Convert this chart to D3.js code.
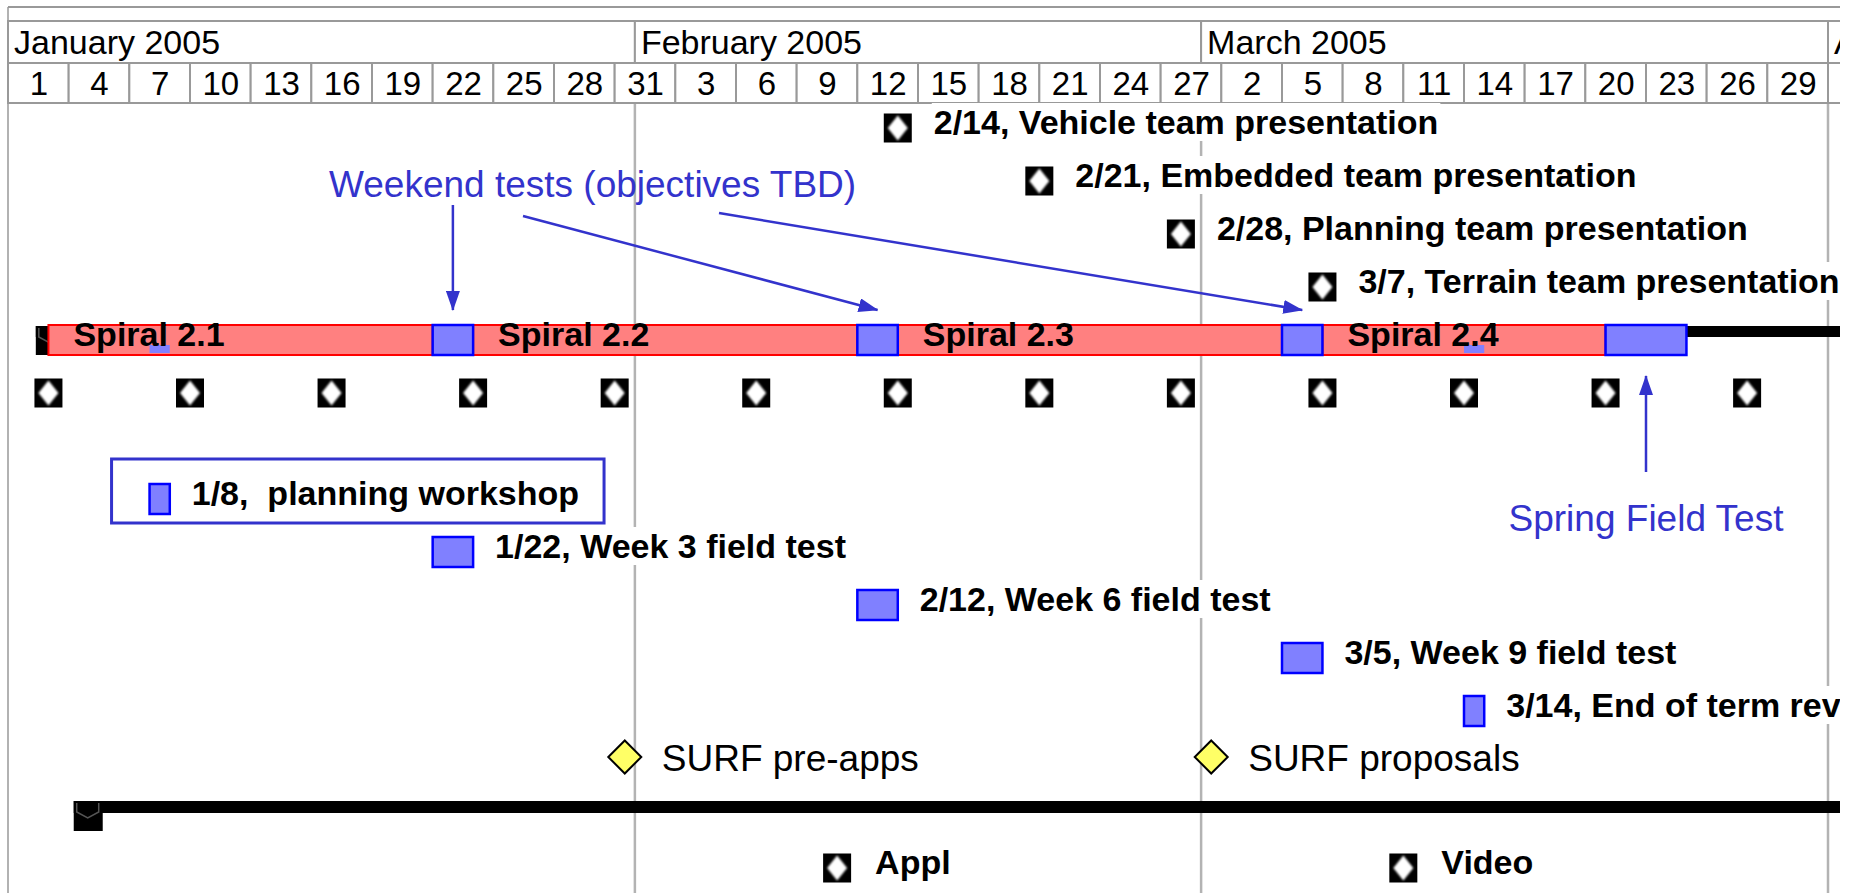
<!DOCTYPE html>
<html><head><meta charset="utf-8">
<script src="https://cdn.jsdelivr.net/npm/d3@7"></script>
<style>
html,body{margin:0;padding:0;background:#fff;overflow:hidden;}
svg{display:block;font-family:"Liberation Sans",Arial,Helvetica,sans-serif;}
</style></head><body>
<svg id="chart" width="1858" height="893"></svg>
<script>
// ---------------- data ----------------
const months = ["January 2005", "February 2005", "March 2005", "April 2005"];
const monthStarts = ["2005-01-01", "2005-02-01", "2005-03-01", "2005-04-01"];
const dayLabels = [1,4,7,10,13,16,19,22,25,28,31,3,6,9,12,15,18,21,24,27,2,5,8,11,14,17,20,23,26,29,1];

const presentationDates = ["2005-02-14", "2005-02-21", "2005-02-28", "2005-03-07"];
const presentationLabels = ["2/14, Vehicle team presentation", "2/21, Embedded team presentation",
  "2/28, Planning team presentation", "3/7, Terrain team presentation"];
const presentationRows = [0, 1, 2, 3];

const spiralNames = ["Spiral 2.1", "Spiral 2.2", "Spiral 2.3", "Spiral 2.4"];
const spiralStarts = ["2005-01-03", "2005-01-24", "2005-02-14", "2005-03-07"];
const spiralEnds = ["2005-01-22", "2005-02-12", "2005-03-05", "2005-03-21"];
const summaryStarts = ["2005-01-02T09:00", "2005-01-04T06:00"];

const testStarts = ["2005-01-22", "2005-02-12", "2005-03-05", "2005-03-21"];
const testEnds = ["2005-01-24", "2005-02-14", "2005-03-07", "2005-03-25"];

const weeklyDates = ["2005-01-03", "2005-01-10", "2005-01-17", "2005-01-24", "2005-01-31", "2005-02-07",
  "2005-02-14", "2005-02-21", "2005-02-28", "2005-03-07", "2005-03-14", "2005-03-21", "2005-03-28"];

const taskLabels = ["1/8,  planning workshop", "1/22, Week 3 field test", "2/12, Week 6 field test",
  "3/5, Week 9 field test", "3/14, End of term review"];
const taskStarts = ["2005-01-08", "2005-01-22", "2005-02-12", "2005-03-05", "2005-03-14"];
const taskEnds = ["2005-01-09", "2005-01-24", "2005-02-14", "2005-03-07", "2005-03-15"];
const taskRows = [7, 8, 9, 10, 11];

const surfLabels = ["SURF pre-apps", "SURF proposals"];
const surfDates = ["2005-01-31T12:00", "2005-03-01T12:00"];

const deliverableLabels = ["Appl", "Video"];
const deliverableDates = ["2005-02-11", "2005-03-11"];

const annotationWeekend = "Weekend tests (objectives TBD)";
const annotationSpring = "Spring Field Test";

// ---------------- setup ----------------
const W = 1858, H = 893, CLIP_R = 1840;
const FONT = '"Liberation Sans", Arial, Helvetica, sans-serif';
const BLUE_ANN = "#3333cc";
const pDay = d3.utcParse("%Y-%m-%d"), pHour = d3.utcParse("%Y-%m-%dT%H:%M");
const parse = s => s.length > 10 ? pHour(s) : pDay(s);

const x = d3.scaleUtc().domain([parse("2005-01-01"), parse("2005-04-01")]).range([8, 1828]);
const y = d3.scaleLinear().domain([0, 11, 12, 13, 14]).range([128, 711, 757, 815, 868]);

const svg = d3.select("#chart");
const defs = svg.append("defs");
defs.append("clipPath").attr("id", "clip").append("rect")
  .attr("x", 0).attr("y", 0).attr("width", CLIP_R).attr("height", H);
const flt = defs.append("filter").attr("id", "soft").attr("x", "-50%").attr("y", "-50%").attr("width", "200%").attr("height", "200%");
flt.append("feGaussianBlur").attr("stdDeviation", 1.3);
const mk = defs.append("marker").attr("id", "arrow").attr("viewBox", "0 0 20 14")
  .attr("refX", 19).attr("refY", 7).attr("markerUnits", "userSpaceOnUse")
  .attr("markerWidth", 20).attr("markerHeight", 14).attr("orient", "auto");
mk.append("path").attr("d", "M0,0 L20,7 L0,14 Z").attr("fill", BLUE_ANN);

const root = svg.append("g").attr("clip-path", "url(#clip)");
const gGrid = root.append("g");
const gHead = root.append("g");
const gBg = root.append("g");
const gMarks = root.append("g");
const gText = root.append("g");

// ---------------- header ----------------
gGrid.append("line").attr("x1", 8).attr("x2", CLIP_R).attr("y1", 7).attr("y2", 7)
  .attr("stroke", "#999").attr("stroke-width", 2);
gGrid.append("line").attr("x1", 8).attr("x2", 8).attr("y1", 7).attr("y2", H)
  .attr("stroke", "#999").attr("stroke-width", 1.5);

const monthDates = monthStarts.map(parse);
const monthEndLast = parse("2005-05-01");
const monthRow = { top: 21, h: 42 };
gHead.selectAll("rect.month").data(months).join("rect").attr("class", "month")
  .attr("x", (d, i) => Math.max(8, x(monthDates[i])))
  .attr("width", (d, i) => x(i < months.length - 1 ? monthDates[i + 1] : monthEndLast) - Math.max(8, x(monthDates[i])))
  .attr("y", monthRow.top).attr("height", monthRow.h)
  .attr("fill", "#fff").attr("stroke", "#999").attr("stroke-width", 2);
gHead.selectAll("text.month").data(months).join("text").attr("class", "month")
  .attr("x", (d, i) => Math.max(8, x(monthDates[i])) + 6)
  .attr("y", monthRow.top + monthRow.h / 2 + 12)
  .attr("font-size", 34).attr("fill", "#000").text(d => d);

const jan1 = parse("2005-01-01");
const dayStarts = dayLabels.map((d, i) => d3.utcDay.offset(jan1, 3 * i));
const dayRow = { top: 63, h: 40 };
gHead.selectAll("rect.day").data(dayStarts).join("rect").attr("class", "day")
  .attr("x", d => Math.max(8, x(d)))
  .attr("width", d => x(d3.utcDay.offset(d, 3)) - Math.max(8, x(d)))
  .attr("y", dayRow.top).attr("height", dayRow.h)
  .attr("fill", "#fff").attr("stroke", "#999").attr("stroke-width", 2);
const dayMids = dayStarts.map(d => d3.utcHour.offset(d, 36));
const labelByTime = new Map(dayMids.map((d, i) => [+d, dayLabels[i]]));
const dayAxis = d3.axisBottom(x).tickValues(dayMids).tickFormat(d => labelByTime.get(+d)).tickSize(0).tickPadding(0);
const ag = gHead.append("g").attr("transform", `translate(0,${dayRow.top + dayRow.h / 2})`).call(dayAxis)
  .attr("font-size", 33).attr("font-family", FONT);
ag.select(".domain").remove();
ag.selectAll("text").attr("y", 0).attr("dy", "0.36em").attr("fill", "#000");

// month boundary grid lines below header
gGrid.selectAll("line.mgrid").data(monthDates.slice(1)).join("line").attr("class", "mgrid")
  .attr("x1", d => x(d)).attr("x2", d => x(d)).attr("y1", dayRow.top + dayRow.h).attr("y2", H)
  .attr("stroke", "#b3b3b3").attr("stroke-width", 2.5);

// ---------------- helpers ----------------
function icon(sel, cx, cy) {
  sel.append("rect").attr("x", cx - 14).attr("y", cy - 14.5).attr("width", 28).attr("height", 29).attr("fill", "#000");
  sel.append("polygon").attr("points", `${cx},${cy - 12.5} ${cx + 10},${cy} ${cx},${cy + 12.5} ${cx - 10},${cy}`)
    .attr("fill", "#fff").attr("filter", "url(#soft)");
}
function boldLabel(tx, cy, text, bg) {
  const t = gText.append("text").attr("x", tx).attr("y", cy + 6)
    .attr("font-size", 34).attr("font-weight", "bold").attr("fill", "#000")
    .style("white-space", "pre").text(text);
  if (bg) {
    const b = t.node().getBBox();
    gBg.append("rect").attr("x", b.x - 2).attr("y", b.y).attr("width", b.width + 4).attr("height", b.height).attr("fill", "#fff");
  }
  return t;
}

// ---------------- presentations ----------------
presentationDates.forEach((d, i) => {
  const cx = x(parse(d)), cy = y(presentationRows[i]);
  icon(gMarks.append("g"), cx, cy);
  boldLabel(cx + 36, cy, presentationLabels[i], true);
});

// ---------------- spiral summary row ----------------
const spiralRow = 4;
const sy = y(spiralRow);
const sm0 = x(parse(summaryStarts[0]));
gMarks.append("rect").attr("x", sm0).attr("y", sy - 14)
  .attr("width", CLIP_R + 20 - sm0).attr("height", 11).attr("fill", "#000");
gMarks.append("rect").attr("x", sm0).attr("y", sy - 14).attr("width", 29).attr("height", 29).attr("fill", "#000");
gMarks.append("path").attr("d", `M${sm0 + 3},${sy - 12} V${sy - 3} L${sm0 + 14},${sy + 3} L${sm0 + 25},${sy - 3} V${sy - 12}`)
  .attr("fill", "none").attr("stroke", "#555").attr("stroke-width", 1.5);

gMarks.selectAll("rect.spiral").data(spiralNames).join("rect").attr("class", "spiral")
  .attr("x", (d, i) => x(parse(spiralStarts[i])))
  .attr("width", (d, i) => x(parse(spiralEnds[i])) - x(parse(spiralStarts[i])))
  .attr("y", sy - 15).attr("height", 30)
  .attr("fill", "#ff8080").attr("stroke", "#ff0000").attr("stroke-width", 2);

gMarks.selectAll("rect.test").data(testStarts).join("rect").attr("class", "test")
  .attr("x", (d, i) => x(parse(testStarts[i])))
  .attr("width", (d, i) => x(parse(testEnds[i])) - x(parse(testStarts[i])))
  .attr("y", sy - 15).attr("height", 30)
  .attr("fill", "#8080ff").attr("stroke", "#0000ff").attr("stroke-width", 2.5);

// single-day tasks shown in the summary row
taskStarts.forEach((s, i) => {
  const a = parse(s), b = parse(taskEnds[i]);
  if (d3.utcDay.count(a, b) === 1) {
    gMarks.append("rect").attr("x", x(a)).attr("width", x(b) - x(a))
      .attr("y", sy + 5).attr("height", 8).attr("fill", "#8080ff");
  }
});

spiralNames.forEach((n, i) => {
  gText.append("text").attr("x", x(parse(spiralStarts[i])) + 25).attr("y", sy + 6)
    .attr("font-size", 34).attr("font-weight", "bold").attr("fill", "#000").text(n);
});

// ---------------- weekly milestones ----------------
weeklyDates.forEach(d => icon(gMarks.append("g"), x(parse(d)), y(5)));

// ---------------- field tasks ----------------
taskLabels.forEach((lab, i) => {
  const a = parse(taskStarts[i]), b = parse(taskEnds[i]), cy = y(taskRows[i]);
  gMarks.append("rect").attr("x", x(a)).attr("width", x(b) - x(a)).attr("y", cy - 15).attr("height", 30)
    .attr("fill", "#8080ff").attr("stroke", "#0000ff").attr("stroke-width", 2.5);
  const t = boldLabel(x(b) + 22, cy, lab, true);
  if (i === 0) {
    const bb = t.node().getBBox();
    gMarks.append("rect").attr("x", x(a) - 38).attr("y", cy - 40)
      .attr("width", bb.x + bb.width + 25 - (x(a) - 38)).attr("height", 64)
      .attr("fill", "none").attr("stroke", BLUE_ANN).attr("stroke-width", 3);
  }
});

// ---------------- SURF milestones ----------------
surfDates.forEach((d, i) => {
  const cx = x(parse(d)), cy = y(12);
  gMarks.append("polygon").attr("points", `${cx},${cy - 16.5} ${cx + 16.5},${cy} ${cx},${cy + 16.5} ${cx - 16.5},${cy}`)
    .attr("fill", "#ffff66").attr("stroke", "#000").attr("stroke-width", 2);
  gText.append("text").attr("x", cx + 37).attr("y", cy + 14).attr("font-size", 37).attr("fill", "#000").text(surfLabels[i]);
});

// ---------------- bottom summary ----------------
const by = y(13), sm1 = x(parse(summaryStarts[1]));
gMarks.append("rect").attr("x", sm1).attr("y", by - 14).attr("width", CLIP_R + 20 - sm1).attr("height", 12).attr("fill", "#000");
gMarks.append("rect").attr("x", sm1).attr("y", by - 14).attr("width", 29).attr("height", 30).attr("fill", "#000");
gMarks.append("path").attr("d", `M${sm1 + 3},${by - 12} V${by - 3} L${sm1 + 14},${by + 3} L${sm1 + 25},${by - 3} V${by - 12}`)
  .attr("fill", "none").attr("stroke", "#555").attr("stroke-width", 1.5);

// ---------------- deliverables ----------------
deliverableDates.forEach((d, i) => {
  const cx = x(parse(d)), cy = y(14);
  icon(gMarks.append("g"), cx, cy);
  boldLabel(cx + 38, cy, deliverableLabels[i], true);
});

// ---------------- annotations ----------------
const gAnn = root.append("g");
gAnn.append("text").attr("x", 329).attr("y", 197).attr("font-size", 37).attr("fill", BLUE_ANN).text(annotationWeekend);
const arrowStarts = [[457, 205], [523, 216], [719, 213]];
arrowStarts.forEach((p, i) => {
  const a = parse(testStarts[i]), b = parse(testEnds[i]);
  const tx = (x(a) + x(b)) / 2, ty = sy - 15 - 15;
  gAnn.append("line").attr("x1", i === 0 ? tx : p[0]).attr("y1", p[1]).attr("x2", tx).attr("y2", ty)
    .attr("stroke", BLUE_ANN).attr("stroke-width", 2.5).attr("marker-end", "url(#arrow)");
});
{
  const a = parse(testStarts[3]), b = parse(testEnds[3]);
  const tx = (x(a) + x(b)) / 2;
  gAnn.append("line").attr("x1", tx).attr("y1", 472).attr("x2", tx).attr("y2", sy + 15 + 21)
    .attr("stroke", BLUE_ANN).attr("stroke-width", 2.5).attr("marker-end", "url(#arrow)");
  gAnn.append("text").attr("x", tx).attr("y", 531).attr("text-anchor", "middle")
    .attr("font-size", 37).attr("fill", BLUE_ANN).text(annotationSpring);
}
</script>
</body></html>
